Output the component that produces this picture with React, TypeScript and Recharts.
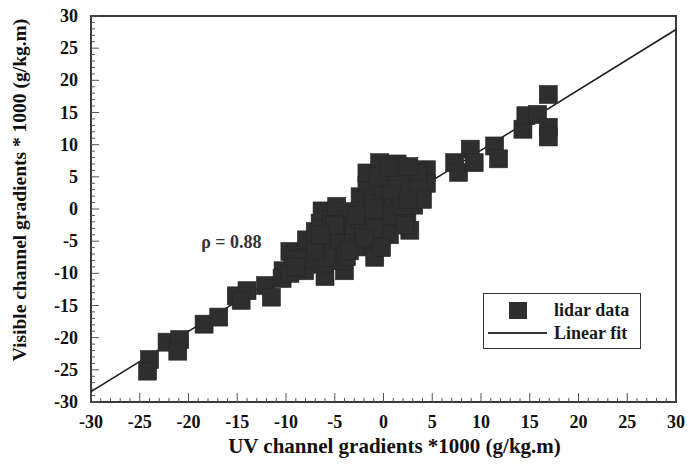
import {
  ScatterChart,
  Scatter,
  XAxis,
  YAxis,
  ReferenceLine,
  ReferenceArea,
  ReferenceDot,
  Legend,
} from "recharts";

const FONT = '"Liberation Serif", "Times New Roman", serif';

// UV channel gradients (x) and visible channel gradients (y), *1000 g/kg.m
const uvGrad = [
  -24.0, -24.2, -22.2, -20.9, -21.1, -18.4, -16.9, -15.1, -14.0, -14.6, -12.1, -11.5,
  -10.3, -10.4, -9.3, -9.6, -8.3, -8.1, -7.9, -7.9, -7.2, -7.0, -6.5, -6.3, -6.5, -6.0,
  -6.2, -5.5, -5.1, -5.3, -4.8, -4.5, -4.5, -4.0, -4.3, -3.8, -3.8, -3.4, -3.1, -3.0,
  -2.6, -2.4, -2.4, -2.0, -2.0, -1.7, -1.7, -1.1, -1.2, -0.9, -0.7, -0.5, -0.4, -0.3,
  0.0, 0.3, 0.2, 0.5, 1.0, 1.4, 1.7, 1.2, 1.5, 2.4, 2.7, 2.7, 3.1, 3.1, 4.4, 4.4, 3.5,
  2.1, -5.8, -7.0, -8.8, -9.6, 0.6, -0.2,
  -1.5, -2.8, -1.0, 0.8, 2.0, 2.2, 1.8, 3.6, 4.0, -3.5, -2.0, -5.0, -6.5, -9.0, -1.0,
  0.8, 2.5, -0.5, 0.5, 2.6,
  7.3, 7.7, 8.9, 9.3, 11.4, 11.8, 14.3, 14.6, 15.8, 16.9, 16.9, 16.9,
];
const visGrad = [
  -23.4, -25.2, -20.7, -20.3, -22.1, -17.9, -16.8, -13.5, -12.7, -14.2, -11.9, -13.7,
  -9.6, -10.8, -8.0, -6.6, -7.0, -9.6, -4.8, -8.6, -7.9, -3.5, -2.2, -0.3, -5.9, -10.5,
  -8.4, -4.3, -6.9, -1.6, 0.4, -3.3, -5.3, -9.6, -8.0, -0.4, -7.4, -1.7, -4.3, -2.6,
  -5.9, -1.7, 1.9, -0.2, -3.0, 3.7, 5.6, 1.4, -5.5, -7.5, -0.7, -4.8, 7.2, 3.5,
  2.7, 0.4, -2.4, 4.8, 1.4, 7.0, 2.2, 5.2, -1.5, -1.1, -3.3, 4.2, 0.6, 2.7, 6.1, 4.0, 5.6,
  6.1, -7.6, -6.4, -7.8, -10.0, -4.0, -6.0,
  -2.0, -1.0, -3.0, -1.0, 0.5, -2.5, 4.0, 3.0, 1.5, -6.5, -4.5, -2.5, -4.0, -9.0, 0.0,
  3.0, 1.5, 5.0, 6.5, 6.6,
  7.2, 5.7, 9.3, 7.2, 9.8, 7.8, 12.4, 14.5, 14.7, 17.8, 12.7, 11.2,
];

// linear fit end points
const fitX = [-30, 30];
const fitY = [-28.4, 27.9];

const rho = "ρ = 0.88";
const rhoAt = [-15.6, -5.1];

const axisTicks = Array.from({ length: 61 }, (_, i) => i - 30);

const points = uvGrad.map((x, i) => ({ x, y: visGrad[i] }));

const SquareDot = (props: any) => {
  const { cx, cy } = props;
  const s = 18;
  return (
    <rect
      x={cx - s / 2}
      y={cy - s / 2}
      width={s}
      height={s}
      fill="#2e2e2e"
      stroke="#262626"
      strokeWidth={0.6}
    />
  );
};

const XTick = (props: any) => {
  const { x, y, payload } = props;
  const v = payload.value;
  const major = v % 5 === 0;
  return (
    <g>
      <line x1={x} x2={x} y1={y} y2={y - (major ? 9 : 4)} stroke="#555" strokeWidth={1} />
      {major && (
        <text x={x} y={y + 26} textAnchor="middle" fill="#111" fontSize={18} fontWeight="bold" fontFamily={FONT}>
          {v}
        </text>
      )}
    </g>
  );
};

const YTick = (props: any) => {
  const { x, y, payload } = props;
  const v = payload.value;
  const major = v % 5 === 0;
  return (
    <g>
      <line x1={x} x2={x + (major ? 8 : 4)} y1={y} y2={y} stroke="#555" strokeWidth={1} />
      {major && (
        <text x={x - 13} y={y + 6} textAnchor="end" fill="#111" fontSize={18} fontWeight="bold" fontFamily={FONT}>
          {v}
        </text>
      )}
    </g>
  );
};

const renderLegend = () => (
  <div
    style={{
      position: "relative",
      width: 158,
      height: 56,
      boxSizing: "border-box",
      border: "1.5px solid #333",
      background: "#fff",
      fontFamily: FONT,
      fontWeight: "bold",
      fontSize: 18,
      color: "#1a1a1a",
    }}
  >
    <div style={{ position: "absolute", left: 25, top: 8, width: 18, height: 17, background: "#2f2f2f" }} />
    <div style={{ position: "absolute", left: 70, top: 5, lineHeight: "22px" }}>lidar data</div>
    <div style={{ position: "absolute", left: 4, top: 38, width: 59, height: 1.5, background: "#333" }} />
    <div style={{ position: "absolute", left: 70, top: 28, lineHeight: "22px" }}>Linear fit</div>
  </div>
);

export default function App() {
  return (
    <div style={{ position: "absolute", left: 0, top: 0, background: "#fff" }}>
      <ScatterChart width={699} height={465} margin={{ top: 16, right: 23, bottom: 0, left: 0 }}>
        <XAxis
          type="number"
          dataKey="x"
          domain={[-30, 30]}
          ticks={axisTicks}
          interval={0}
          allowDataOverflow
          height={63}
          axisLine={false}
          tickLine={false}
          tickSize={0}
          tickMargin={0}
          tick={<XTick />}
          label={(p: any) => {
            const vb = p.viewBox;
            return (
              <text
                x={vb.x + vb.width / 2 + 11}
                y={vb.y + 51}
                textAnchor="middle"
                fill="#111"
                fontSize={21}
                fontWeight="bold"
                fontFamily={FONT}
              >
                UV channel gradients *1000 (g/kg.m)
              </text>
            );
          }}
        />
        <YAxis
          type="number"
          dataKey="y"
          domain={[-30, 30]}
          ticks={axisTicks}
          interval={0}
          allowDataOverflow
          width={91}
          axisLine={false}
          tickLine={false}
          tickSize={0}
          tickMargin={0}
          tick={<YTick />}
          label={(p: any) => {
            const vb = p.viewBox;
            const cx = 26;
            const cy = vb.y + vb.height / 2 - 19;
            return (
              <text
                x={cx}
                y={cy}
                transform={`rotate(-90 ${cx} ${cy})`}
                textAnchor="middle"
                fill="#111"
                fontSize={19.5}
                fontWeight="bold"
                fontFamily={FONT}
              >
                Visible channel gradients * 1000 (g/kg.m)
              </text>
            );
          }}
        />
        <ReferenceArea x1={-30} x2={30} y1={-30} y2={30} fill="none" stroke="#3a3a3a" strokeWidth={2} />
        <Scatter data={points} shape={<SquareDot />} isAnimationActive={false} />
        <ReferenceLine
          segment={[
            { x: fitX[0], y: fitY[0] },
            { x: fitX[1], y: fitY[1] },
          ]}
          stroke="#1a1a1a"
          strokeWidth={1.5}
        />
        <ReferenceDot
          x={rhoAt[0]}
          y={rhoAt[1]}
          r={1}
          fill="none"
          stroke="none"
          label={{ value: rho, position: "center", fill: "#333", fontSize: 18, fontWeight: "bold", fontFamily: FONT }}
        />
        <Legend
          layout="vertical"
          align="center"
          verticalAlign="middle"
          content={renderLegend}
          wrapperStyle={{ left: 483, top: 293, width: 158, height: 56 }}
        />
      </ScatterChart>
    </div>
  );
}
